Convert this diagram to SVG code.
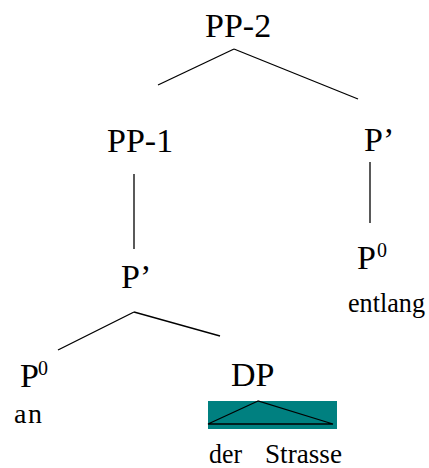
<svg xmlns="http://www.w3.org/2000/svg" width="429" height="468" viewBox="0 0 429 468">
<rect width="429" height="468" fill="#fff"/>
<g id="connectors" stroke="#000" stroke-width="1.3" fill="none">
<line x1="234" y1="49" x2="158" y2="85"/>
<line x1="234" y1="49" x2="358" y2="99"/>
<line x1="134" y1="174" x2="134" y2="249"/>
<line x1="370" y1="162" x2="370" y2="223"/>
<line x1="134" y1="312" x2="58" y2="350"/>
<line x1="134" y1="312" x2="220" y2="336"/>
</g>
<g id="pp2"><text font-family="Liberation Serif" font-size="34" x="205" y="37">PP-2</text></g>
<g id="pp1"><text font-family="Liberation Serif" font-size="34" x="107" y="152">PP-1</text></g>
<g id="pbar-right"><text font-family="Liberation Serif" font-size="34" x="364" y="151">P&#8217;</text></g>
<g id="p0-right"><text font-family="Liberation Serif" font-size="34" x="357" y="269">P</text><text font-family="Liberation Serif" font-size="20" x="377" y="257">0</text></g>
<g id="entlang"><text font-family="Liberation Serif" font-size="28" x="348" y="312" textLength="77" lengthAdjust="spacingAndGlyphs">entlang</text></g>
<g id="pbar-left"><text font-family="Liberation Serif" font-size="34" x="121" y="288">P&#8217;</text></g>
<g id="p0-left"><text font-family="Liberation Serif" font-size="34" x="20" y="387">P</text><text font-family="Liberation Serif" font-size="20" x="38" y="375">0</text></g>
<g id="an"><text font-family="Liberation Serif" font-size="28" x="14" y="423" textLength="28" lengthAdjust="spacing">an</text></g>
<g id="dp"><text font-family="Liberation Serif" font-size="34" x="231" y="386">DP</text>
<rect x="208" y="401" width="129" height="28" fill="#008080"/>
<polygon points="258,401 208,424 333,424" fill="none" stroke="#000" stroke-width="1.3"/>
</g>
<g id="der-strasse"><text font-family="Liberation Serif" font-size="28" x="209" y="463" textLength="33" lengthAdjust="spacingAndGlyphs">der</text><text font-family="Liberation Serif" font-size="28" x="265" y="463" textLength="77" lengthAdjust="spacingAndGlyphs">Strasse</text></g>
</svg>
